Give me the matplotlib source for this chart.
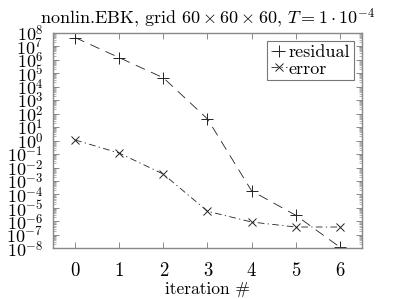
import numpy as np
import matplotlib
matplotlib.use('Agg')
import matplotlib.pyplot as plt
from matplotlib.ticker import LogLocator, FixedLocator

# values (log10 scale)
iterations = [0, 1, 2, 3, 4, 5, 6]
residual_exp = [7.63, 6.14, 4.65, 1.6, -3.73, -5.54, -7.9]
error_exp = [0.04, -0.93, -2.49, -5.24, -6.04, -6.41, -6.41]

residual = 10.0 ** np.array(residual_exp)
error = 10.0 ** np.array(error_exp)

plt.rcParams['font.family'] = 'serif'
plt.rcParams['font.serif'] = ['cmr10']
plt.rcParams['mathtext.fontset'] = 'cm'
plt.rcParams['axes.formatter.use_mathtext'] = True
plt.rcParams['axes.unicode_minus'] = False

fig = plt.figure(figsize=(3.99, 2.99), dpi=100)
ax = fig.add_axes([0.133, 0.169, 0.774, 0.722])

ax.plot(iterations, residual, color='#222222', lw=0.6, ls=(0, (12, 8)),
        marker='+', ms=8, mew=0.7, label='residual')
ax.plot(iterations, error, color='#222222', lw=0.6, ls=(0, (8, 4, 1.5, 4)),
        marker='x', ms=6, mew=0.7, label='error')

ax.set_yscale('log')
ax.set_ylim(1e-8, 1e8)
ax.set_xlim(-0.5, 6.5)
ax.yaxis.set_major_locator(FixedLocator([10.0 ** k for k in range(-8, 9)]))
ax.yaxis.set_minor_locator(LogLocator(base=10, subs=np.arange(2, 10), numticks=100))
ax.set_yticklabels(['$10^{%d}$' % k for k in range(-8, 9)], fontsize=13)
ax.set_xticks(iterations)
ax.set_xticklabels([str(i) for i in iterations], fontsize=13.5)

ax.tick_params(axis='both', which='both', direction='in', top=True, right=True,
               color='#777777')
ax.tick_params(axis='y', which='major', length=4, width=0.6, pad=7)
ax.tick_params(axis='y', which='minor', length=2, width=0.4)
ax.tick_params(axis='x', which='major', length=4, width=0.6, pad=10)
for s in ax.spines.values():
    s.set_color('#888888')
    s.set_linewidth(1.0)

ax.set_xlabel('iteration #', fontsize=12.5, labelpad=1)
ax.set_title(r'nonlin.EBK, grid $60\times60\times60$, $T=1\cdot10^{-4}$',
             fontsize=13, pad=6)

leg = ax.legend(loc='upper right', fontsize=13, handlelength=0.9,
                handletextpad=0.1, borderpad=0.2, labelspacing=0.05,
                fancybox=False, framealpha=1, borderaxespad=0.45)
leg.get_frame().set_edgecolor('#777777')
leg.get_frame().set_linewidth(0.8)

fig.savefig('out.png', dpi=100)
